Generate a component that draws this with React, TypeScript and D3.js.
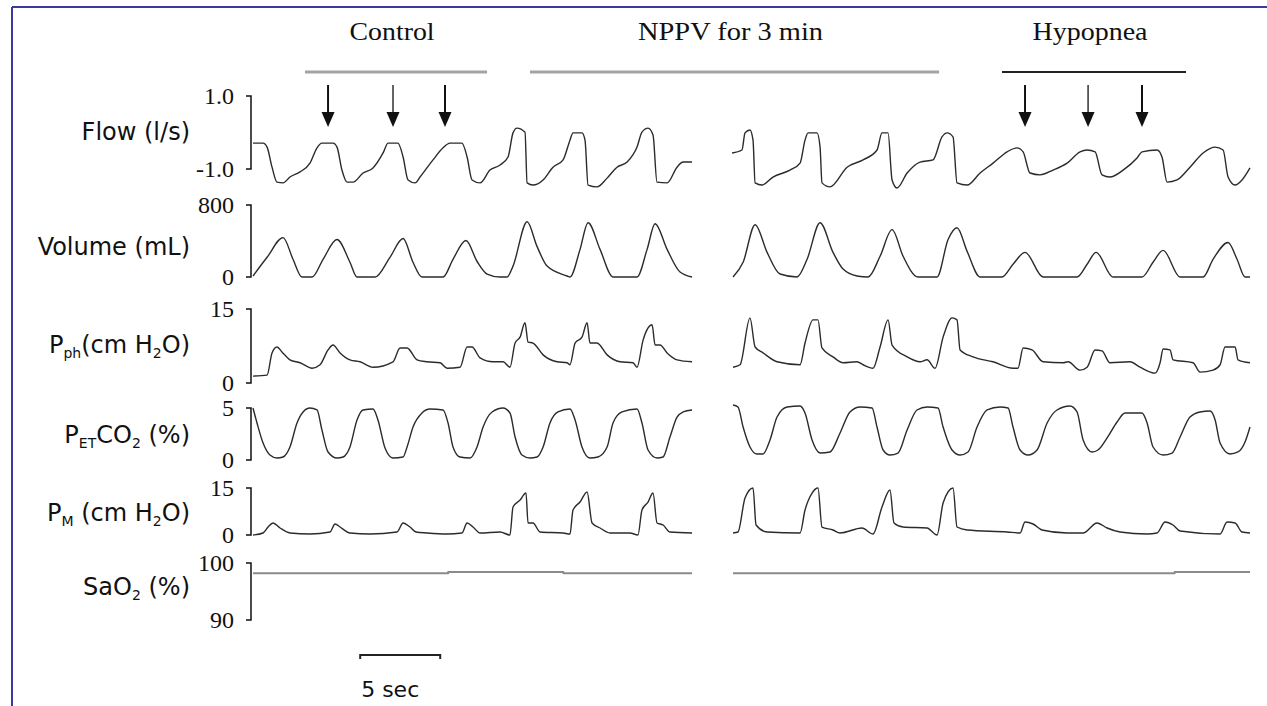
import * as d3 from 'd3';
import React from 'react';

// time in seconds, values in each channel's units
const flowA: [number, number][] = [
  [0, -0.29], [0.63, -0.29], [0.88, -0.4], [1.19, -0.95], [1.5, -1.36], [1.88, -1.38], [2.31, -1.22], [2.94, -1.08],
  [3.56, -0.84], [4.0, -0.42], [4.31, -0.29], [5.0, -0.29], [5.25, -0.4], [5.56, -1.03], [5.88, -1.36], [6.25, -1.36],
  [6.88, -1.11], [7.5, -0.97], [8.13, -0.56], [8.44, -0.29], [9.06, -0.29], [9.38, -0.67], [9.69, -1.3], [10.13, -1.38],
  [10.44, -1.22], [11.25, -0.75], [11.88, -0.42], [12.31, -0.29], [13.06, -0.29], [13.38, -0.67], [13.69, -1.3],
  [14.19, -1.38], [14.81, -1.03], [15.44, -0.89], [15.94, -0.67], [16.25, -0.01], [16.5, 0.12], [17.0, 0.01],
  [17.13, -1.38], [17.5, -1.44], [18.13, -1.3], [18.75, -0.95], [19.38, -0.75], [19.81, -0.21], [20.0, -0.01],
  [20.56, -0.01], [20.75, -0.21], [20.94, -1.44], [21.5, -1.49], [22.13, -1.25], [22.75, -0.95], [23.38, -0.81],
  [24.0, -0.4], [24.31, 0.01], [24.69, 0.12], [25.0, -0.07], [25.25, -1.36], [25.88, -1.38], [26.5, -0.95],
  [26.88, -0.81], [27.44, -0.81],
];
const flowB: [number, number][] = [
  [29.94, -0.56], [30.56, -0.48], [30.75, -0.01], [31.06, 0.07], [31.25, -0.21], [31.38, -1.38], [31.81, -1.44],
  [32.5, -1.22], [33.56, -1.03], [34.19, -0.84], [34.5, -0.21], [34.69, -0.01], [35.25, -0.01], [35.44, -0.4],
  [35.56, -1.38], [36.06, -1.49], [37.13, -0.95], [38.13, -0.75], [39.0, -0.48], [39.31, -0.01], [39.69, -0.01],
  [39.94, -1.3], [40.25, -1.52], [40.88, -1.11], [41.69, -0.81], [42.5, -0.75], [43.06, -0.12], [43.38, -0.01],
  [43.75, -0.12], [44.0, -1.38], [44.63, -1.44], [45.44, -1.11], [46.25, -0.84], [47.13, -0.53], [47.75, -0.42],
  [48.13, -0.53], [48.56, -1.11], [49.19, -1.16], [50.0, -1.03], [50.88, -0.84], [51.69, -0.53], [52.13, -0.48],
  [52.63, -0.53], [53.06, -1.16], [53.56, -1.22], [54.38, -1.03], [55.25, -0.7], [55.56, -0.53], [56.5, -0.48],
  [56.81, -0.67], [57.13, -1.36], [57.75, -1.3], [58.56, -0.95], [59.38, -0.56], [60.13, -0.4], [60.63, -0.48],
  [60.94, -1.22], [61.38, -1.44], [61.81, -1.3], [62.31, -0.97],
];

const volA: [number, number][] = [
  [0, 11], [0.88, 219], [1.88, 438], [2.5, 197], [3.06, 0], [3.69, 0], [4.38, 197], [5.25, 416], [6.06, 164],
  [6.5, 0], [7.63, 0], [8.56, 219], [9.38, 427], [10.0, 164], [10.56, 0], [11.88, 0], [12.5, 197], [13.31, 406],
  [14.0, 175], [14.63, 33], [15.44, 0], [15.88, 0], [16.25, 121], [17.13, 614], [17.75, 340], [18.38, 121],
  [19.63, 11], [19.81, 0], [20.44, 307], [20.94, 603], [21.69, 307], [22.5, 0], [24.0, 0], [24.63, 307],
  [25.13, 592], [25.88, 307], [26.69, 55], [27.44, 0],
];
const volB: [number, number][] = [
  [30.0, 0], [30.63, 164], [31.38, 581], [32.13, 274], [32.94, 33], [34.0, 0], [34.63, 197], [35.44, 603],
  [36.25, 274], [36.88, 88], [37.75, 11], [38.44, 0], [39.19, 230], [39.94, 526], [40.63, 230], [41.56, 0],
  [42.75, 0], [43.44, 416], [44.0, 548], [44.63, 285], [45.44, 0], [46.81, 0], [47.5, 142], [48.25, 274],
  [49.38, 0], [51.5, 0], [52.13, 142], [52.69, 274], [53.75, 0], [55.56, 0], [56.25, 164], [56.88, 296],
  [57.94, 0], [59.38, 0], [60.0, 197], [60.94, 384], [61.5, 197], [62.0, 0], [62.31, 0],
];

const pphA: [number, number][] = [
  [0, 1.4], [0.88, 1.6], [1.19, 6.1], [1.5, 7.3], [1.81, 6.3], [2.31, 4.7], [2.94, 4.1], [3.69, 3.0], [4.19, 3.7],
  [4.69, 6.7], [5.0, 7.7], [5.44, 6.1], [6.06, 4.7], [6.69, 4.3], [7.5, 3.2], [8.75, 4.3], [9.19, 7.1],
  [9.63, 7.1], [10.25, 4.7], [10.88, 4.3], [11.69, 4.1], [12.13, 3.0], [12.94, 3.2], [13.38, 7.3], [13.69, 7.3],
  [14.19, 5.1], [15.0, 4.3], [15.63, 4.3], [16.06, 3.2], [16.38, 8.1], [16.69, 9.3], [17.0, 12.2], [17.19, 8.3],
  [17.5, 8.1], [18.13, 5.7], [19.0, 4.3], [19.63, 4.1], [19.81, 3.7], [20.13, 8.1], [20.56, 9.3], [20.88, 12.2],
  [21.06, 8.1], [21.5, 8.1], [22.13, 5.7], [22.94, 4.3], [23.75, 4.1], [24.0, 3.2], [24.38, 8.7], [24.94, 11.8],
  [25.13, 7.7], [25.44, 7.7], [25.88, 6.1], [26.5, 4.7], [27.44, 4.3],
];
const pphB: [number, number][] = [
  [30.0, 3.2], [30.44, 3.7], [31.06, 13.2], [31.38, 7.3], [31.88, 6.1], [32.75, 4.3], [34.19, 3.7], [34.5, 8.1],
  [35.0, 12.8], [35.31, 12.8], [35.56, 7.1], [36.25, 5.3], [36.88, 4.1], [37.75, 4.3], [38.13, 3.7], [38.75, 3.0],
  [39.19, 7.3], [39.69, 12.8], [39.94, 7.7], [40.88, 5.3], [41.69, 4.3], [42.13, 4.7], [42.63, 3.0], [43.13, 9.3],
  [43.69, 13.2], [44.0, 12.8], [44.19, 6.7], [45.0, 5.3], [46.25, 4.3], [47.5, 3.0], [47.81, 3.0], [48.13, 7.1],
  [48.69, 6.7], [49.38, 4.3], [50.63, 4.1], [50.94, 4.3], [51.69, 2.6], [52.13, 3.2], [52.63, 6.7], [53.06, 6.5],
  [53.56, 4.1], [54.81, 4.3], [55.44, 3.2], [56.38, 2.0], [56.69, 4.1], [56.88, 6.9], [57.31, 6.7], [57.5, 4.7],
  [58.75, 4.1], [59.19, 2.2], [60.0, 2.6], [60.44, 3.7], [60.75, 7.3], [61.38, 7.3], [61.56, 4.7], [62.31, 4.1],
];

const co2A: [number, number][] = [
  [0, 5.0], [0.25, 3.56], [0.63, 1.63], [1.06, 0.48], [1.5, 0.19], [1.88, 0.29], [2.31, 1.25], [2.75, 3.56],
  [3.13, 4.62], [3.56, 5.0], [4.0, 4.81], [4.31, 2.88], [4.69, 0.77], [5.25, 0.19], [5.63, 0.29], [6.06, 1.25],
  [6.5, 3.85], [6.88, 4.81], [7.5, 4.9], [7.81, 3.85], [8.25, 1.15], [8.75, 0.19], [9.38, 0.29], [9.63, 1.25],
  [10.0, 3.17], [10.56, 4.52], [11.06, 4.9], [11.88, 4.81], [12.19, 3.56], [12.5, 1.25], [12.94, 0.29],
  [13.56, 0.19], [14.0, 1.25], [14.38, 3.17], [14.94, 4.62], [15.63, 5.0], [16.06, 4.52], [16.38, 2.21],
  [16.81, 0.48], [17.31, 0.19], [17.75, 0.29], [18.13, 1.25], [18.56, 3.56], [19.06, 4.62], [19.81, 4.9],
  [20.13, 3.85], [20.56, 1.25], [21.06, 0.19], [21.56, 0.29], [22.13, 1.25], [22.5, 3.56], [23.06, 4.62],
  [24.0, 4.9], [24.31, 3.56], [24.69, 0.96], [25.25, 0.19], [25.63, 0.29], [26.06, 2.21], [26.5, 4.13],
  [26.88, 4.62], [27.44, 4.81],
];
const co2B: [number, number][] = [
  [30.0, 5.29], [30.31, 5.1], [30.63, 3.17], [31.06, 1.25], [31.5, 0.58], [31.88, 0.58], [32.31, 1.92],
  [32.75, 4.13], [33.38, 5.1], [34.19, 5.19], [34.5, 4.52], [34.94, 1.92], [35.44, 0.67], [36.06, 0.77],
  [36.69, 2.6], [37.31, 4.62], [37.94, 5.1], [38.69, 5.0], [39.0, 3.17], [39.38, 0.96], [39.81, 0.48],
  [40.31, 0.67], [40.88, 2.88], [41.5, 4.81], [42.13, 5.1], [42.81, 5.0], [43.13, 3.17], [43.69, 0.96],
  [44.19, 0.48], [44.69, 0.77], [45.25, 3.17], [45.88, 4.81], [46.69, 5.1], [47.19, 5.0], [47.5, 3.17],
  [47.94, 0.96], [48.44, 0.48], [49.0, 0.96], [49.63, 3.56], [50.25, 4.81], [51.06, 5.19], [51.5, 4.62],
  [51.88, 1.92], [52.44, 0.77], [52.81, 0.96], [53.38, 2.12], [54.0, 3.65], [54.5, 4.52], [55.56, 4.52],
  [55.88, 3.56], [56.25, 1.25], [56.88, 0.48], [57.44, 0.67], [57.94, 2.21], [58.56, 4.13], [59.19, 4.62],
  [59.81, 4.71], [60.13, 3.85], [60.44, 1.63], [61.06, 0.58], [61.56, 0.77], [62.0, 1.73], [62.31, 3.17],
];

const pmA: [number, number][] = [
  [0, 0], [0.63, 0.64], [0.94, 2.55], [1.25, 3.83], [1.69, 2.23], [2.31, 0.64], [3.56, 0.32], [4.81, 0.96],
  [5.13, 3.51], [5.44, 2.55], [6.06, 0.64], [7.31, 0.32], [9.0, 0.96], [9.38, 3.83], [9.81, 2.55], [10.19, 0.96],
  [10.88, 0.64], [12.13, 0.32], [13.06, 0.64], [13.38, 3.83], [13.75, 2.55], [14.19, 0.64], [15.44, 0.96],
  [16.06, 0], [16.25, 8.94], [16.69, 11.17], [17.06, 13.4], [17.19, 3.83], [17.5, 3.83], [17.94, 0.96],
  [19.38, 0.64], [19.81, 0.32], [20.0, 7.98], [20.44, 10.53], [20.88, 13.72], [21.19, 3.83], [21.69, 2.23],
  [22.31, 0.64], [23.56, 0.64], [24.06, 0], [24.31, 7.98], [24.69, 10.53], [25.0, 13.4], [25.25, 3.83],
  [25.63, 3.19], [26.06, 0.96], [27.44, 0.64],
];
const pmB: [number, number][] = [
  [30.0, 0.64], [30.31, 0.96], [30.75, 11.81], [31.25, 15.0], [31.44, 3.19], [32.13, 0.96], [34.19, 0.64],
  [34.5, 7.98], [34.94, 13.4], [35.31, 15.0], [35.56, 2.55], [36.25, 1.6], [36.69, 0.64], [38.06, 2.23],
  [38.75, 0.32], [39.31, 8.94], [39.81, 14.36], [40.06, 3.83], [40.63, 2.55], [42.13, 2.23], [42.75, 0],
  [43.13, 10.21], [43.75, 15.0], [44.0, 2.55], [44.63, 1.6], [47.13, 0.96], [47.94, 0.64], [48.25, 4.15],
  [48.75, 3.51], [49.31, 1.6], [50.88, 0.64], [51.88, 0.64], [52.75, 3.83], [53.38, 2.23], [54.19, 0.96],
  [55.88, 0.32], [56.5, 0.64], [57.0, 4.15], [57.5, 3.19], [57.94, 1.28], [60.44, 0.32], [60.88, 4.15],
  [61.38, 3.83], [61.81, 0.96], [62.31, 0.64],
];

const saoA: [number, number][] = [[0, 98.2], [12.2, 98.2], [12.2, 98.4], [19.4, 98.4], [19.4, 98.2], [27.44, 98.2]];
const saoB: [number, number][] = [[30, 98.2], [57.6, 98.2], [57.6, 98.4], [62.31, 98.4]];

const phaseNames = ['Control', 'NPPV for 3 min', 'Hypopnea'];
const phaseStart = [3.25, 17.31, 46.81];
const phaseEnd = [14.63, 42.88, 58.31];
const arrowTimes = [4.69, 8.75, 12.0, 48.25, 52.19, 55.56];
const scaleBarStart = 6.7;
const scaleBarSec = 5;

type Row = {
  key: string;
  domain: [number, number];
  tickLabels: [string, string];
  a: [number, number][];
  b: [number, number][];
  label: React.ReactNode;
};

const sub = (s: string) => (
  <tspan fontSize={14} dy={5}>{s}</tspan>
);

const rows: Row[] = [
  { key: 'flow', domain: [-1, 1], tickLabels: ['-1.0', '1.0'], a: flowA, b: flowB, label: <>Flow (l/s)</> },
  { key: 'vol', domain: [0, 800], tickLabels: ['0', '800'], a: volA, b: volB, label: <>Volume (mL)</> },
  {
    key: 'pph', domain: [0, 15], tickLabels: ['0', '15'], a: pphA, b: pphB,
    label: <>P{sub('ph')}<tspan dy={-5}>(cm H</tspan>{sub('2')}<tspan dy={-5}>O)</tspan></>,
  },
  {
    key: 'co2', domain: [0, 5], tickLabels: ['0', '5'], a: co2A, b: co2B,
    label: <>P{sub('ET')}<tspan dy={-5}>CO</tspan>{sub('2')}<tspan dy={-5}> (%)</tspan></>,
  },
  {
    key: 'pm', domain: [0, 15], tickLabels: ['0', '15'], a: pmA, b: pmB,
    label: <>P{sub('M')}<tspan dy={-5}> (cm H</tspan>{sub('2')}<tspan dy={-5}>O)</tspan></>,
  },
  {
    key: 'sao', domain: [90, 100], tickLabels: ['90', '100'], a: saoA, b: saoB,
    label: <>SaO{sub('2')}<tspan dy={-5}> (%)</tspan></>,
  },
];

// pixel band (bottom, top) for every channel's bracket
const bands: [number, number][] = [[169, 96], [277, 205], [383, 309], [460, 408], [535, 488], [620, 563]];
const labelBaselines = [140, 255, 353, 443, 521, 595];

export default function App() {
  const W = 1267;
  const H = 706;
  const x = d3.scaleLinear().domain([0, 62.31]).range([253, 1250]);
  const bracketX = 251;
  const serif = '"Liberation Serif", "Times New Roman", serif';
  const sans = '"DejaVu Sans", Verdana, sans-serif';

  return (
    <svg width={W} height={H} style={{ position: 'absolute', left: 0, top: 0, background: '#fff' }}>
      <rect x={0} y={0} width={W} height={H} fill="#fff" />
      {/* frame */}
      <line x1={12} y1={7} x2={W} y2={7} stroke="#3b3b9b" strokeWidth={2} />
      <line x1={12} y1={7} x2={12} y2={H} stroke="#3b3b9b" strokeWidth={2} />

      {/* phase bars and titles */}
      {phaseNames.map((name, i) => {
        const x0 = x(phaseStart[i]);
        const x1 = x(phaseEnd[i]);
        const dark = i === 2;
        const widths = [85, 185, 115];
        return (
          <g key={name}>
            <line x1={x0} x2={x1} y1={72} y2={72} stroke={dark ? '#222' : '#a3a3a3'} strokeWidth={dark ? 2 : 3} />
            <text x={(x0 + x1) / 2 - 4} y={40} textAnchor="middle" fontFamily={serif} fontSize={26}
              textLength={widths[i]} lengthAdjust="spacingAndGlyphs" fill="#111">{name}</text>
          </g>
        );
      })}

      {/* arrows */}
      {arrowTimes.map((t, i) => {
        const ax = x(t);
        return (
          <g key={i}>
            <line x1={ax} x2={ax} y1={85} y2={114} stroke="#111" strokeWidth={i === 1 || i === 4 ? 1.3 : 2} />
            <polygon points={`${ax - 6.5},${112} ${ax + 6.5},${112} ${ax},${127}`} fill="#111" />
          </g>
        );
      })}

      {rows.map((r, i) => {
        const [yb, yt] = bands[i];
        const y = d3.scaleLinear().domain(r.domain).range([yb, yt]);
        const line = d3.line<[number, number]>()
          .x(d => x(d[0]))
          .y(d => y(d[1]))
          .curve(r.key === 'sao' ? d3.curveLinear : d3.curveMonotoneX);
        const stroke = r.key === 'sao' ? '#8a8a8a' : '#2b2b2b';
        const sw = r.key === 'sao' ? 2 : 1.4;
        return (
          <g key={r.key}>
            <text x={190} y={labelBaselines[i]} textAnchor="end" fontFamily={sans} fontSize={24} fill="#111">
              {r.label}
            </text>
            {/* bracket */}
            <path d={`M${bracketX - 5},${y(r.domain[1])}H${bracketX}V${y(r.domain[0])}H${bracketX - 5}`}
              fill="none" stroke="#111" strokeWidth={1.5} />
            <text x={234} y={y(r.domain[1]) + 8} textAnchor="end" fontFamily={serif} fontSize={24} fill="#111">
              {r.tickLabels[1]}
            </text>
            <text x={234} y={y(r.domain[0]) + 8} textAnchor="end" fontFamily={serif} fontSize={24} fill="#111">
              {r.tickLabels[0]}
            </text>
            <path d={line(r.a) || ''} fill="none" stroke={stroke} strokeWidth={sw} strokeLinejoin="round" />
            <path d={line(r.b) || ''} fill="none" stroke={stroke} strokeWidth={sw} strokeLinejoin="round" />
          </g>
        );
      })}

      {/* time scale bar */}
      <path
        d={`M${x(scaleBarStart)},${659}V${655}H${x(scaleBarStart + scaleBarSec)}V${659}`}
        fill="none" stroke="#222" strokeWidth={2}
      />
      <text x={x(scaleBarStart) + 30} y={697} textAnchor="middle" fontFamily={sans} fontSize={22} fill="#111">5 sec</text>
    </svg>
  );
}
